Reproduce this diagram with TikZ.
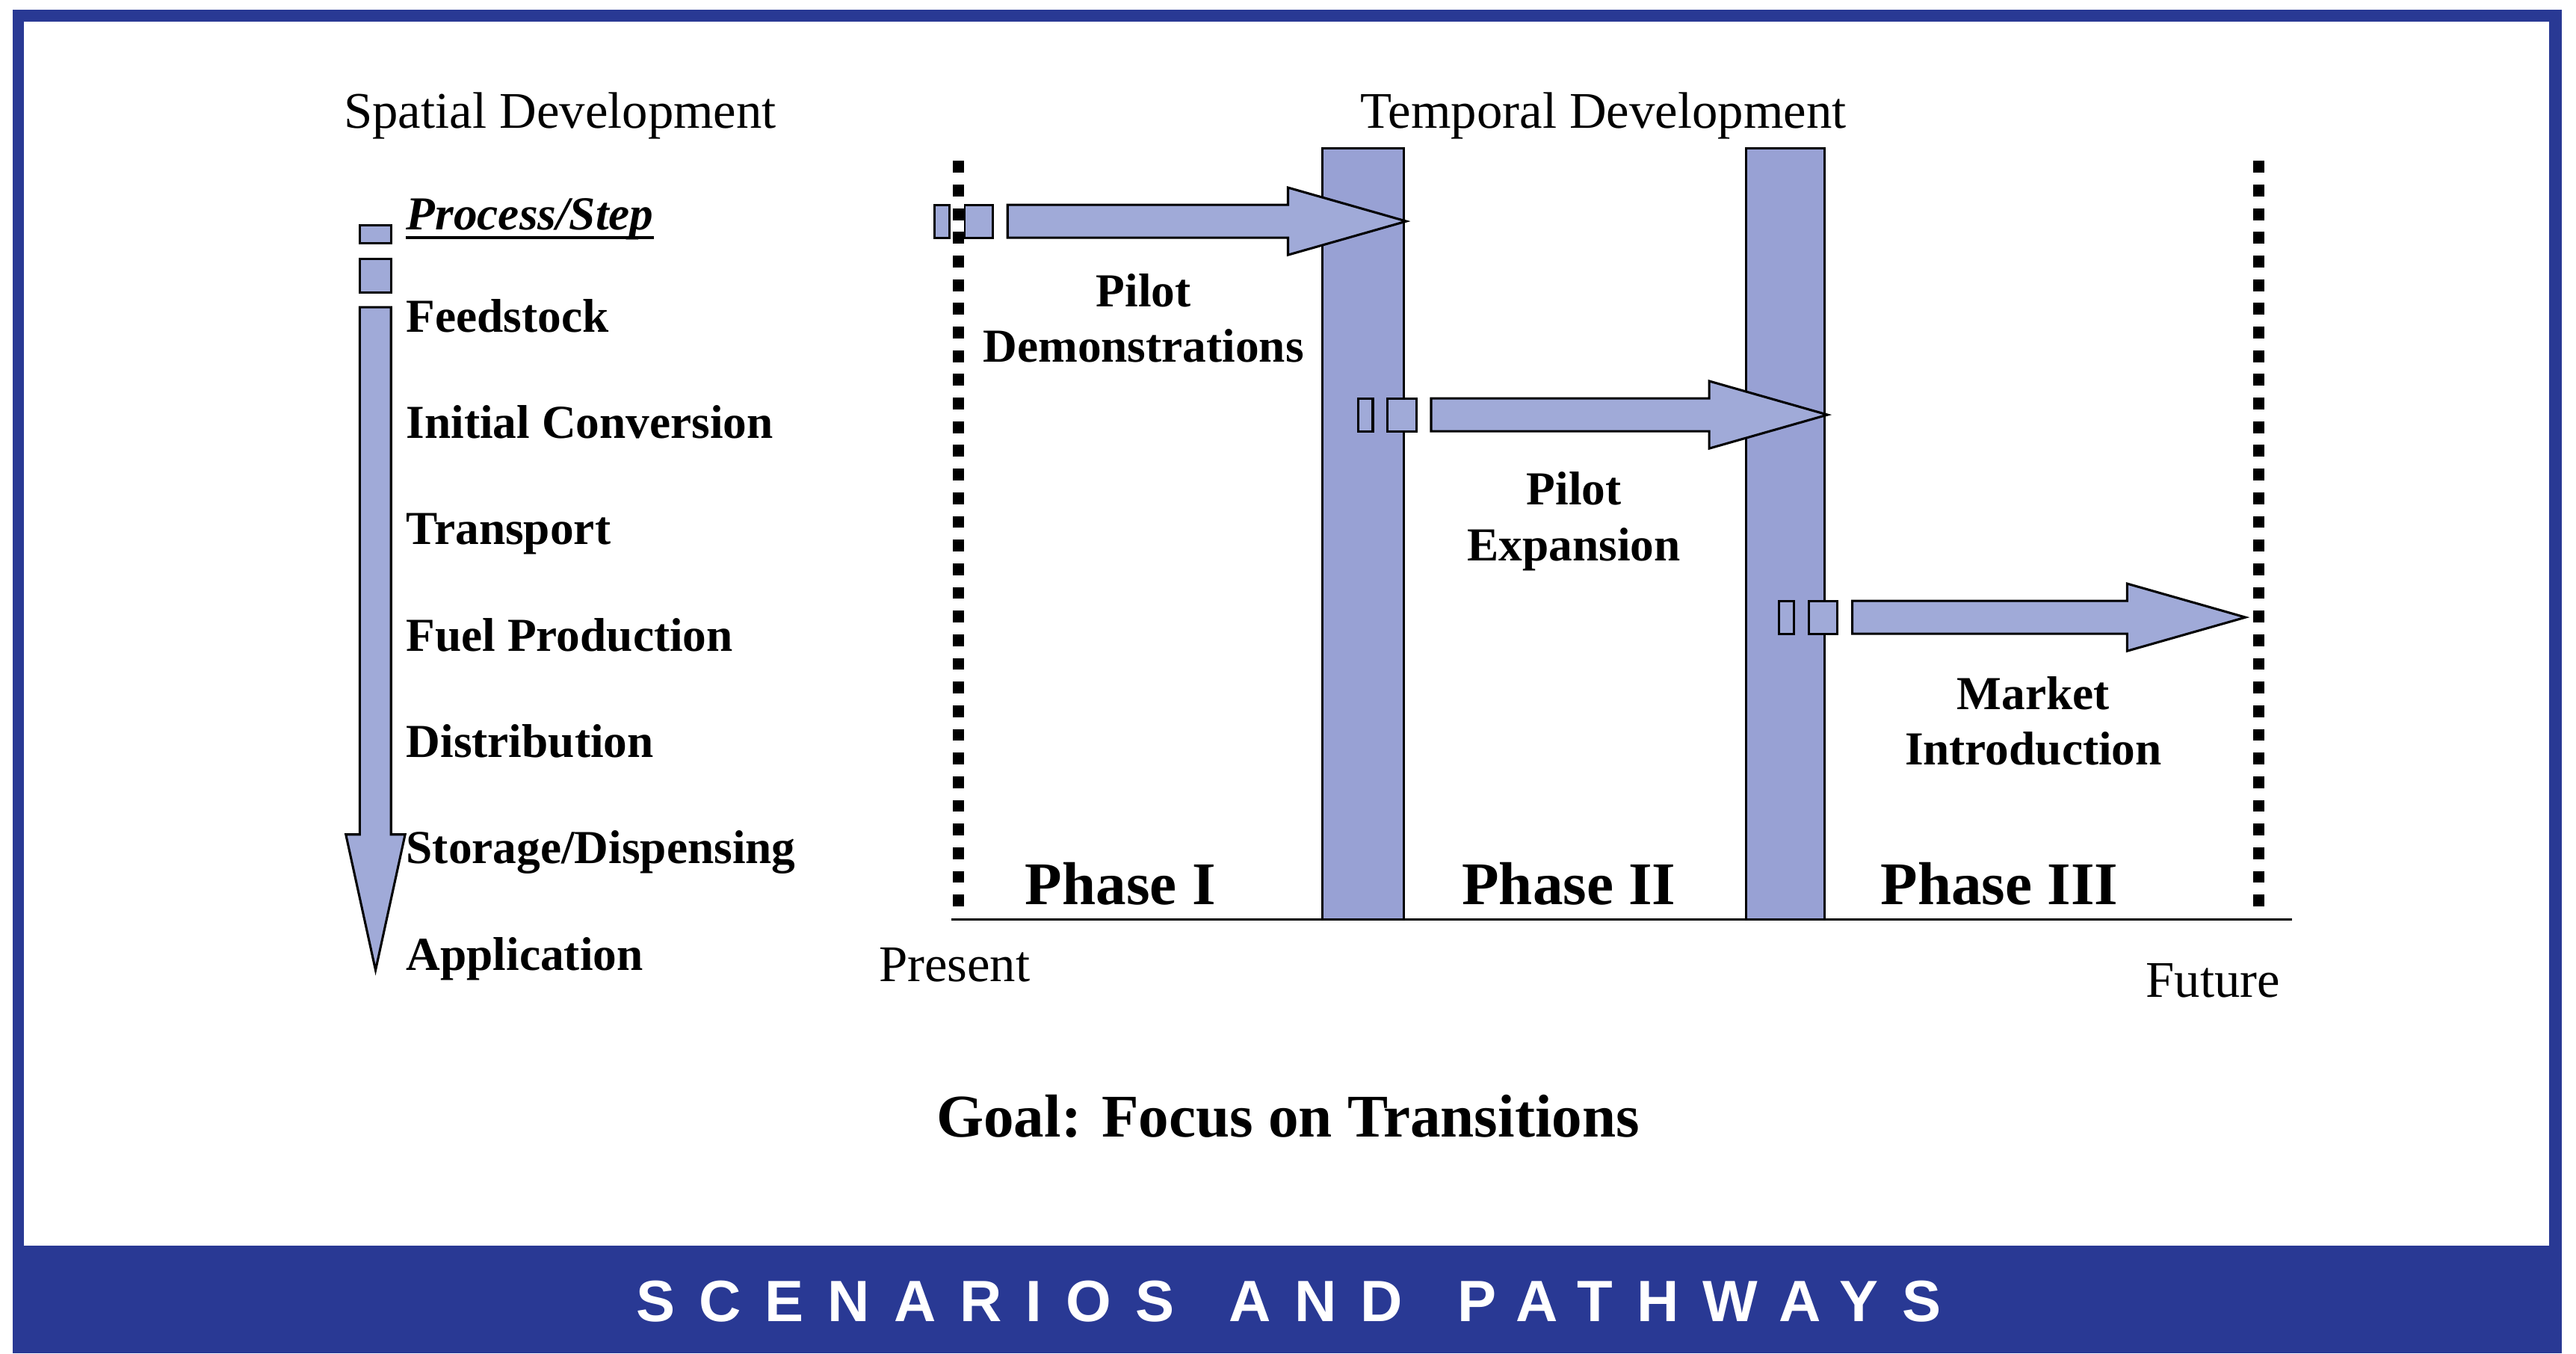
\documentclass[tikz,border=0pt]{standalone}
\usepackage{fontspec}
\setmainfont{Liberation Serif}
\newfontfamily\bannerfont{Liberation Sans}[LetterSpace=41,WordSpace=1.36]
\newcommand{\panah}[3]
	{
	\draw[isi] (#1,#2-10) rectangle ++(9,20);
	\draw[isi] (#1+18,#2-10) rectangle ++(17.5,20);
	\draw[isi] (#1+44.5,#2-10) -- (#3-72,#2-10) -- (#3-72,#2-20.5) -- (#3,#2)
		-- (#3-72,#2+20.5) -- (#3-72,#2+10) -- (#1+44.5,#2+10) -- cycle;
	}
\usetikzlibrary{calc,positioning}
\definecolor{bingkai}{RGB}{41,57,148}
\definecolor{isian}{RGB}{160,170,216}
\definecolor{kolom}{RGB}{152,161,212}
\tikzset{
	isi/.style={draw=black,fill=isian,line width=0.8pt,line join=miter},
	kolomisi/.style={draw=black,fill=kolom,line width=0.8pt},
	titik/.style={line width=4pt,dash pattern=on 4.1pt off 4.1pt},
	biasa/.style={inner sep=0pt,font=\fontsize{17.8}{21}\selectfont},
	tebal/.style={inner sep=0pt,font=\fontsize{16.4}{19.3}\selectfont\bfseries},
	besar/.style={inner sep=0pt,font=\fontsize{21}{25}\selectfont\bfseries}
}

\begin{document}
\begin{tikzpicture}[x=0.02cm,y=-0.02cm]
\useasboundingbox (0,0) rectangle (1568,824);

% bingkai
\fill[bingkai] (7.7,5.9) rectangle (1559.2,824);
\fill[white] (14.6,13.2) rectangle (1551.5,758.4);

% judul
\node[biasa,anchor=base] (spasial) at (341,78) {Spatial Development};
\node[biasa,anchor=base] (temporal) at (976,78) {Temporal Development};

% legenda
\draw[isi] (219,137) rectangle (238,148);
\draw[isi] (219,157.5) rectangle (238,178);
\draw[isi] (219,187) -- (238,187) -- (238,508) -- (246.6,508) -- (228.6,590.6)
	-- (210.5,508) -- (219,508) -- cycle;

\node[tebal,anchor=base west] (proses) at (247,140) {\textit{Process/Step}};
\draw[line width=1pt] ([yshift=-2.7pt]proses.base west) -- ([yshift=-2.7pt]proses.base east);
\node[tebal,anchor=base west] (bahan) at (247,202) {Feedstock};
\node[tebal,anchor=base west] (konversi) at (247,266.8) {Initial Conversion};
\node[tebal,anchor=base west] (angkut) at (247,331.5) {Transport};
\node[tebal,anchor=base west] (bbm) at (247,396.3) {Fuel Production};
\node[tebal,anchor=base west] (distribusi) at (247,461) {Distribution};
\node[tebal,anchor=base west] (simpan) at (247,525.8) {Storage/Dispensing};
\node[tebal,anchor=base west] (aplikasi) at (247,590.5) {Application};

% kolom transisi
\draw[kolomisi] (805,90.2) rectangle (854.5,559.6);
\draw[kolomisi] (1062.8,90.2) rectangle (1110.6,559.6);

% panah tahap
\panah{568.8}{134.7}{856}
\panah{826.6}{252.5}{1112.4}
\panah{1083}{375.8}{1366.8}

% garis waktu
\draw[white,line width=4pt] (583.5,98) -- (583.5,555);
\draw[titik] (583.5,98) -- (583.5,555);
\draw[titik] (1375,98) -- (1375,555);
\draw[line width=0.8pt] (579,559.6) -- (1395,559.6);

% keterangan tahap
\node[tebal,align=center] (demo) at (696,193.7) {Pilot\\Demonstrations};
\node[tebal,align=center] (ekspansi) at (958,317.4) {Pilot\\Expansion};
\node[tebal,align=center] (pasar) at (1237.7,439) {Market\\Introduction};

\node[besar,anchor=base] (fase1) at (682,550.6) {Phase I};
\node[besar,anchor=base] (fase2) at (955,550.6) {Phase II};
\node[besar,anchor=base] (fase3) at (1217,550.6) {Phase III};

\node[biasa,anchor=base] (sekarang) at (581,597.5) {Present};
\node[biasa,anchor=base] (nanti) at (1347,607) {Future};

\node[besar,anchor=base] (tujuan) at (784,692) {Goal: Focus on Transitions};

% pita bawah
\node[anchor=base,inner sep=0pt,text=white,font=\fontsize{20.2}{24}\selectfont\bannerfont\bfseries]
	(pita) at (784.5,804.4) {SCENARIOS AND PATHWAYS};

\end{tikzpicture}
\end{document}
